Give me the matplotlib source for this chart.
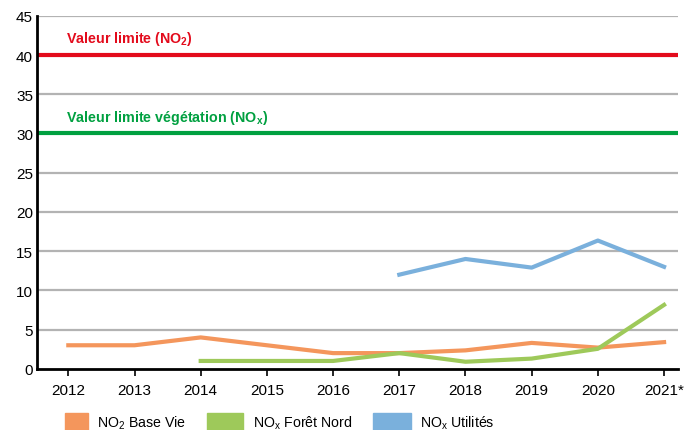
import matplotlib.pyplot as plt
from matplotlib.patches import Rectangle

plt.rcParams['font.family'] = ['Liberation Sans', 'DejaVu Sans']
plt.rcParams['mathtext.default'] = 'regular'

years = [2012, 2013, 2014, 2015, 2016, 2017, 2018, 2019, 2020, 2021]
year_labels = ['2012', '2013', '2014', '2015', '2016', '2017', '2018', '2019', '2020', '2021*']

no2_base_vie_years = [2012, 2013, 2014, 2015, 2016, 2017, 2018, 2019, 2020, 2021]
no2_base_vie = [3.0, 3.0, 4.0, 3.0, 2.0, 2.0, 2.35, 3.3, 2.7, 3.4]

nox_foret_years = [2014, 2015, 2016, 2017, 2018, 2019, 2020, 2021]
nox_foret = [1.0, 1.0, 1.0, 2.0, 0.9, 1.3, 2.55, 8.15]

nox_util_years = [2017, 2018, 2019, 2020, 2021]
nox_util = [12.0, 14.0, 12.9, 16.35, 13.0]

limit_no2 = 40
limit_nox_veg = 30

legend_labels = [r'NO$_2$ Base Vie', r'NO$_x$ Forêt Nord', r'NO$_x$ Utilités']

c_red = '#e30b1c'
c_green = '#00a040'
c_orange = '#f4965c'
c_lgreen = '#9ec95a'
c_blue = '#7ab0dc'

W, H = 689, 431
fig = plt.figure(figsize=(W / 100, H / 100), dpi=100)
ax = fig.add_axes([0.054, 0.142, 0.93, 0.819])

for y in range(5, 50, 5):
    ax.axhline(y, color='#b3b3b3', lw=1.6, zorder=1)

ax.axhline(limit_no2, color=c_red, lw=3, zorder=2)
ax.axhline(limit_nox_veg, color=c_green, lw=3, zorder=2)
ax.text(2011.96, 41.0, r'Valeur limite (NO$_2$)', color=c_red, fontsize=10.3,
        fontweight='bold', va='bottom', ha='left')
ax.text(2011.96, 31.0, r'Valeur limite végétation (NO$_x$)', color=c_green, fontsize=10.3,
        fontweight='bold', va='bottom', ha='left')

ax.plot(no2_base_vie_years, no2_base_vie, color=c_orange, lw=3, zorder=3)
ax.plot(nox_foret_years, nox_foret, color=c_lgreen, lw=3, zorder=4)
ax.plot(nox_util_years, nox_util, color=c_blue, lw=3, zorder=3)

ax.set_xlim(2011.53, 2021.21)
ax.set_ylim(0, 45)
ax.set_xticks(years)
ax.set_xticklabels(year_labels)
ax.set_yticks(range(0, 50, 5))
ax.tick_params(axis='x', length=5, width=1.2, labelsize=11, pad=5, direction='out')
ax.tick_params(axis='y', length=0, labelsize=11, pad=3)
for s in ['top', 'right']:
    ax.spines[s].set_visible(False)
for s in ['left', 'bottom']:
    ax.spines[s].set_linewidth(2)
    ax.spines[s].set_color('black')
    ax.spines[s].set_zorder(5)

# legend: coloured boxes with labels, as in the source layout (pixel positions)
boxes = [(65, 23), (207, 36), (373, 38)]
text_x = [97, 253, 420]
for (bx, bw), tx, col, lab in zip(boxes, text_x, [c_orange, c_lgreen, c_blue], legend_labels):
    fig.patches.append(Rectangle((bx / W, 0), bw / W, 17 / H, transform=fig.transFigure,
                                 color=col, figure=fig))
    fig.text(tx / W, 8 / H, lab, fontsize=10.2, va='center', ha='left')

fig.savefig('out.png', dpi=100)
